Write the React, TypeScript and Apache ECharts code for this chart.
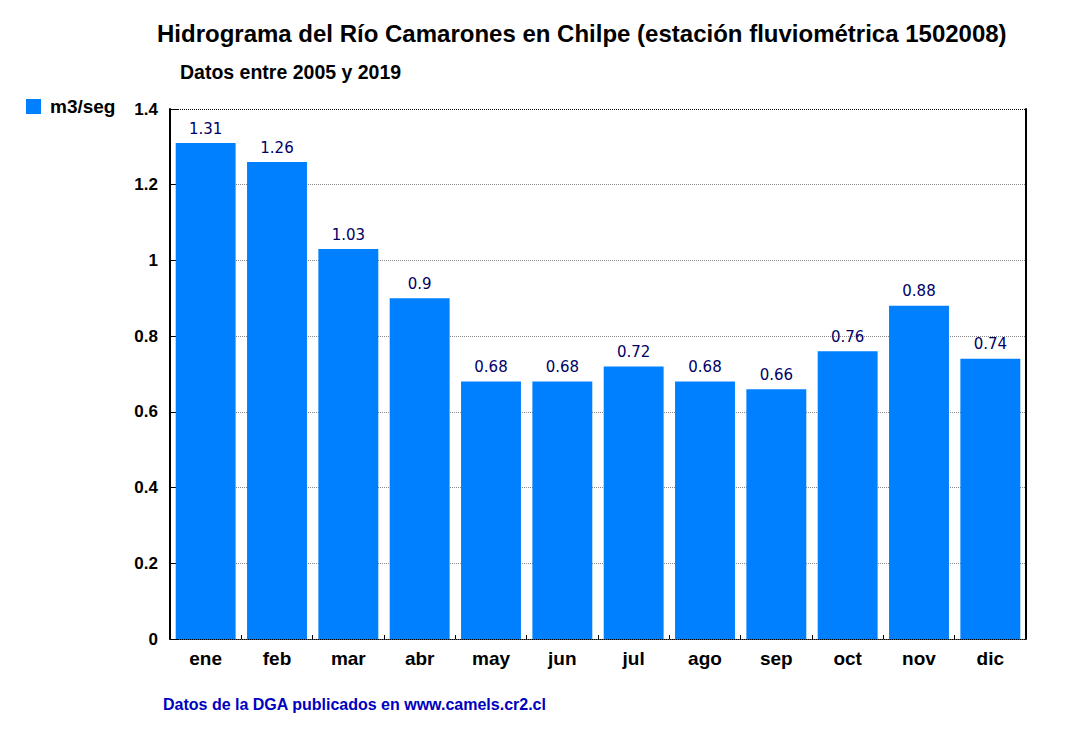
import React, { useEffect, useRef } from "react";
import * as echarts from "echarts";

const months = ["ene", "feb", "mar", "abr", "may", "jun", "jul", "ago", "sep", "oct", "nov", "dic"];
const flow = [1.31, 1.26, 1.03, 0.9, 0.68, 0.68, 0.72, 0.68, 0.66, 0.76, 0.88, 0.74];
const seriesName = "m3/seg";
const titleText = "Hidrograma del Río Camarones en Chilpe (estación fluviométrica 1502008)";
const subtitleText = "Datos entre 2005 y 2019";
const footerText = "Datos de la DGA publicados en www.camels.cr2.cl";

const ARIAL = "'Liberation Sans', Arial, sans-serif";

export default function App() {
  const ref = useRef<HTMLDivElement>(null);
  useEffect(() => {
    if (!ref.current) return;
    const chart = echarts.init(ref.current, undefined, { renderer: "svg" });
    chart.setOption({
      animation: false,
      backgroundColor: "#ffffff",
      title: [
        {
          text: titleText,
          left: 152,
          top: 16,
          textStyle: { fontFamily: ARIAL, fontWeight: "bold", fontSize: 24, color: "#000" },
        },
        {
          text: subtitleText,
          left: 175,
          top: 57,
          textStyle: { fontFamily: ARIAL, fontWeight: "bold", fontSize: 19.5, color: "#000" },
        },
        {
          text: footerText,
          left: 158,
          top: 691,
          textStyle: { fontFamily: ARIAL, fontWeight: "bold", fontSize: 16, color: "#0000c0" },
        },
      ],
      legend: {
        left: 21,
        top: 92,
        itemWidth: 15,
        itemHeight: 15,
        itemGap: 8,
        icon: "rect",
        data: [seriesName],
        textStyle: {
          fontFamily: ARIAL,
          fontWeight: "bold",
          fontSize: 19,
          color: "#000",
          padding: [0, 0, 0, 4],
        },
      },
      grid: { left: 170, right: 44, top: 109, bottom: 95, containLabel: false },
      xAxis: {
        type: "category",
        data: months,
        axisLine: { show: true, lineStyle: { color: "#000", type: "dotted", width: 1 } },
        axisTick: { show: true, inside: true, length: 4, lineStyle: { color: "#000" } },
        axisLabel: { fontFamily: ARIAL, fontWeight: "bold", fontSize: 19, color: "#000", margin: 10 },
        splitLine: { show: false },
      },
      yAxis: [
        {
          type: "value",
          min: 0,
          max: 1.4,
          interval: 0.2,
          axisLine: { show: true, lineStyle: { color: "#000", width: 2 } },
          axisTick: { show: true, inside: true, length: 8, lineStyle: { color: "#000" } },
          axisLabel: {
            fontFamily: ARIAL,
            fontWeight: "bold",
            fontSize: 17,
            color: "#000",
            margin: 12,
            formatter: (v: number) => String(Math.round(v * 10) / 10),
          },
          splitLine: {
            show: true,
            lineStyle: {
              type: "dotted",
              color: ["#000", "#888", "#888", "#888", "#888", "#888", "#888", "#000"],
            },
          },
        },
        {
          type: "value",
          position: "right",
          min: 0,
          max: 1.4,
          interval: 0.2,
          axisLine: { show: true, lineStyle: { color: "#000", width: 2 } },
          axisTick: { show: false },
          axisLabel: { show: false },
          splitLine: { show: false },
        },
      ],
      series: [
        {
          name: seriesName,
          type: "bar",
          data: flow,
          yAxisIndex: 0,
          barCategoryGap: "16%",
          itemStyle: { color: "#0080ff" },
          label: {
            show: true,
            position: "top",
            distance: 7,
            fontFamily: "'DejaVu Sans', Verdana, sans-serif",
            fontSize: 15,
            color: "#000066",
          },
        },
      ],
    });
    return () => chart.dispose();
  }, []);
  return (
    <div style={{ position: "fixed", left: 0, top: 0, width: 1070, height: 734, background: "#fff" }}>
      <div ref={ref} style={{ width: 1070, height: 734 }} />
    </div>
  );
}
